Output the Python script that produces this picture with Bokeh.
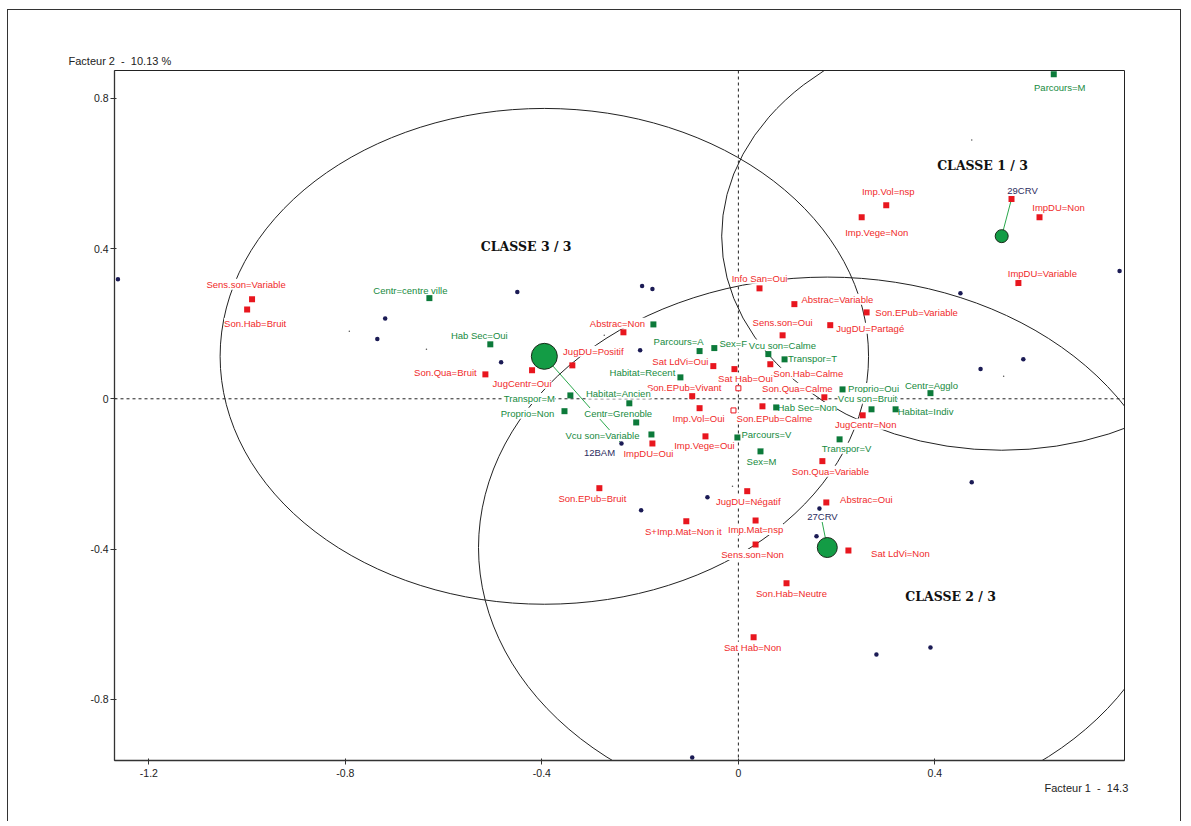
from bokeh.plotting import figure
from bokeh.models import Range1d, FixedTicker, Span, Title, ColumnDataSource
from bokeh.core.properties import value
from bokeh.embed import file_html
from bokeh.resources import INLINE

# ---------------- data ----------------
x_ticks = [-1.2, -0.8, -0.4, 0, 0.4]
x_tick_labels = ["-1.2", "-0.8", "-0.4", "0", "0.4"]
y_ticks = [-0.8, -0.4, 0, 0.4, 0.8]
y_tick_labels = ["-0.8", "-0.4", "0", "0.4", "0.8"]

red_labels = ["Sens.son=Variable", "Son.Hab=Bruit", "Son.Qua=Bruit", "JugCentr=Oui", "JugDU=Positif",
              "Abstrac=Non", "Sat LdVi=Oui", "Sat Hab=Oui", "Son.EPub=Vivant", "Imp.Vol=Oui",
              "ImpDU=Oui", "Imp.Vege=Oui", "Son.EPub=Bruit", "JugDU=Négatif", "S+Imp.Mat=Non it",
              "Imp.Mat=nsp", "Sens.son=Non", "Sat Hab=Non", "Son.Hab=Neutre", "Son.Qua=Variable",
              "Abstrac=Oui", "Sat LdVi=Non", "Info San=Oui", "Abstrac=Variable", "Son.EPub=Variable",
              "Sens.son=Oui", "JugDU=Partagé", "Son.Hab=Calme", "Son.Qua=Calme", "Son.EPub=Calme",
              "JugCentr=Non", "Imp.Vol=nsp", "Imp.Vege=Non", "ImpDU=Non", "ImpDU=Variable"]
red_x = [-0.990, -1.000, -0.515, -0.420, -0.338, -0.234, -0.051, -0.008, -0.094, -0.079,
         -0.175, -0.067, -0.283, 0.018, -0.106, 0.035, 0.035, 0.031, 0.098, 0.171,
         0.179, 0.224, 0.043, 0.114, 0.261, 0.090, 0.187, 0.065, 0.175, 0.049,
         0.253, 0.301, 0.251, 0.613, 0.570]
red_y = [0.265, 0.238, 0.065, 0.076, 0.089, 0.177, 0.087, 0.079, 0.007, -0.025,
         -0.119, -0.100, -0.238, -0.246, -0.326, -0.324, -0.388, -0.635, -0.491, -0.166,
         -0.276, -0.404, 0.294, 0.252, 0.230, 0.169, 0.196, 0.092, 0.004, -0.020,
         -0.044, 0.515, 0.483, 0.483, 0.308]
# label placement relative to the point (screen pixels, y downward)
red_dx = [-6, 8, -40, -10, 21, -6, -33, 11, -8, -1, -4, -1, -7, 1, -3, 0, -3, -1, 5, 8,
          40, 52, 0, 43, 50, 0, 40, 38, -27, 12, 3, 2, 15, 19, 24]
red_dy = [-15, 14, -2, 13, -14, -9, -5, 9, -9, 10, 10, 9, 10, 10, 10, 9, 10, 10, 10, 10,
          -3, 3, -10, -5, 0, -13, 3, 9, -9, 12, 9, -14, 15, -10, -10]

hollow_x = [0.000, -0.010]
hollow_y = [0.028, -0.031]

green_labels = ["Centr=centre ville", "Hab Sec=Oui", "", "Parcours=A", "Sex=F", "Habitat=Recent",
                "Transpor=M", "Habitat=Ancien", "Proprio=Non", "Centr=Grenoble", "Vcu son=Variable",
                "Parcours=V", "Sex=M", "Vcu son=Calme", "Transpor=T", "Hab Sec=Non", "Proprio=Oui",
                "Vcu son=Bruit", "Habitat=Indiv", "Centr=Agglo", "Transpor=V", "Parcours=M"]
green_x = [-0.629, -0.505, -0.173, -0.079, -0.049, -0.118, -0.342, -0.222, -0.354, -0.208, -0.177,
           -0.002, 0.045, 0.061, 0.094, 0.077, 0.212, 0.271, 0.320, 0.391, 0.206, 0.642]
green_y = [0.268, 0.145, 0.198, 0.127, 0.135, 0.057, 0.009, -0.012, -0.033, -0.063, -0.095,
           -0.103, -0.140, 0.119, 0.105, -0.023, 0.025, -0.028, -0.028, 0.015, -0.108, 0.864]
green_dx = [-19, -11, 0, -21, 19, -38, -41, -11, -37, -18, -49, 29, 1, 14, 28, 31, 31, -4, 30, 1, 7, 6]
green_dy = [-8, -9, 0, -10, -5, -5, 3, -10, 2, -9, 1, -3, 10, -9, -1, 0, -1, -11, 2, -8, 9, 13]

ind_x = [-1.263, -0.719, -0.735, -0.450, -0.483, -0.196, -0.175, -0.200, -0.238, -0.063, -0.198,
         0.165, 0.159, 0.475, 0.281, 0.391, -0.094, 0.776, 0.452, 0.580, 0.493]
ind_y = [0.318, 0.214, 0.159, 0.284, 0.097, 0.300, 0.292, 0.129, -0.119, -0.262, -0.297,
         -0.292, -0.366, -0.222, -0.681, -0.662, -0.955, 0.340, 0.281, 0.105, 0.079]
tiny_x = [-0.792, -0.635, -0.273, -0.012, 0.475, 0.540]
tiny_y = [0.180, 0.132, 0.169, -0.233, 0.689, 0.060]

par_names = ["29CRV", "27CRV", "12BAM"]
par_x = [0.556, 0.165, -0.238]
par_y = [0.532, -0.292, -0.119]
par_dx = [11, 3, -22]
par_dy = [-8, 8, 9]

class_names = ["CLASSE 1 / 3", "CLASSE 2 / 3", "CLASSE 3 / 3"]
class_x = [0.536, 0.181, -0.395]
class_y = [0.433, -0.396, 0.113]
class_w = [1.14, 1.42, 1.32]
class_h = [1.14, 1.44, 1.32]
class_dot = [13, 20, 26]
class_lab_x = [0.497, 0.432, -0.432]
class_lab_y = [0.622, -0.526, 0.406]

y_title = "Facteur 2 \u00a0-\u00a0 10.13 %"
x_title = "Facteur 1 \u00a0-\u00a0 14.3"

# ---------------- figure ----------------
W, H = 1174, 812
FL, FT, FR, FB = 106, 60, 1116, 750
p = figure(width=W, height=H, x_range=Range1d(-1.270, 0.786), y_range=Range1d(-0.963, 0.874),
           output_backend="svg", toolbar_location=None,
           min_border_left=FL, min_border_top=FT, min_border_right=W - FR, min_border_bottom=H - FB)
p.styles = {"border-left": "1px solid #333", "border-top": "1px solid #333",
            "border-right": "1px solid #333", "margin-left": "7px", "margin-top": "9px"}
p.xgrid.visible = False
p.ygrid.visible = False
p.background_fill_color = "white"
p.border_fill_color = "white"
p.outline_line_color = "#222"
p.outline_line_width = 1
p.outline_line_alpha = 1

for ax, ticks, labs in ((p.xaxis[0], x_ticks, x_tick_labels), (p.yaxis[0], y_ticks, y_tick_labels)):
    ax.ticker = FixedTicker(ticks=ticks)
    ax.major_label_overrides = dict(zip(ticks, labs))
    ax.axis_line_color = "#333"
    ax.axis_line_width = 1.3
    ax.major_tick_line_color = "#333"
    ax.minor_tick_line_color = None
    ax.major_tick_out = 4
    ax.major_tick_in = 2
    ax.major_label_text_font = "Liberation Sans"
    ax.major_label_text_font_size = "10.5px"
    ax.major_label_text_color = "#222"
p.xaxis.major_label_standoff = 4
p.yaxis.major_label_standoff = 2

for dim in ("height", "width"):
    p.add_layout(Span(location=0, dimension=dim, line_color="#222", line_dash="3 3",
                      line_width=1, level="underlay"))

# class ellipses
p.ellipse(x=class_x, y=class_y, width=class_w, height=class_h, fill_alpha=0,
          line_color="#222", line_width=1)

# links class centre -> parangon
p.segment(x0=class_x, y0=class_y, x1=par_x, y1=par_y, line_color="#2aa84c", line_width=1)

font = value("Liberation Sans")
red_src = ColumnDataSource(dict(x=red_x, y=red_y, t=red_labels, dx=red_dx, dy=red_dy))
green_src = ColumnDataSource(dict(x=green_x, y=green_y, t=green_labels, dx=green_dx, dy=green_dy))
par_src = ColumnDataSource(dict(x=par_x, y=par_y, t=par_names, dx=par_dx, dy=par_dy))

common = dict(x="x", y="y", text="t", x_offset="dx", y_offset="dy", text_align="center",
              text_baseline="middle", text_font=font, text_font_size="9.5px",
              background_fill_color="white", border_line_color=None)
p.text(source=red_src, text_color="#f02a2a", **common)
p.text(source=green_src, text_color="#168a3e", **common)
p.text(source=par_src, text_color="#2c2c60", **common)

# points
p.scatter(x=red_x, y=red_y, marker="square", size=6, fill_color="#e8161e", line_color=None)
p.scatter(x=[par_x[0]], y=[par_y[0]], marker="square", size=6, fill_color="#e8161e", line_color=None)
p.scatter(x=hollow_x, y=hollow_y, marker="square", size=5, fill_color="white", line_color="#e8161e", line_width=1)
p.scatter(x=green_x, y=green_y, marker="square", size=6, fill_color="#0c7a3a", line_color=None)
p.scatter(x=ind_x, y=ind_y, marker="circle", size=4.5, fill_color="#1b1b55", line_color=None)
p.scatter(x=tiny_x, y=tiny_y, marker="circle", size=1.5, fill_color="#555", line_color=None)
p.scatter(x=class_x, y=class_y, marker="circle", size=class_dot, fill_color="#139c45",
          line_color="#1a2a1a", line_width=1)

# class titles
p.text(x=class_lab_x, y=class_lab_y, text=class_names, text_align="center", text_baseline="middle",
       text_font=value("DejaVu Serif"), text_font_style="bold", text_font_size="12.5px", text_color="#111")

# axis titles
p.title = Title(text=y_title, align="left", offset=-46, standoff=7,
                text_font="Liberation Sans", text_font_size="11px", text_font_style="normal",
                text_color="#222")
p.add_layout(Title(text=x_title, align="left", offset=930, standoff=0,
                   text_font="Liberation Sans", text_font_size="11px", text_font_style="normal",
                   text_color="#222"), "below")

open("out.html", "w").write(file_html(p, INLINE))
